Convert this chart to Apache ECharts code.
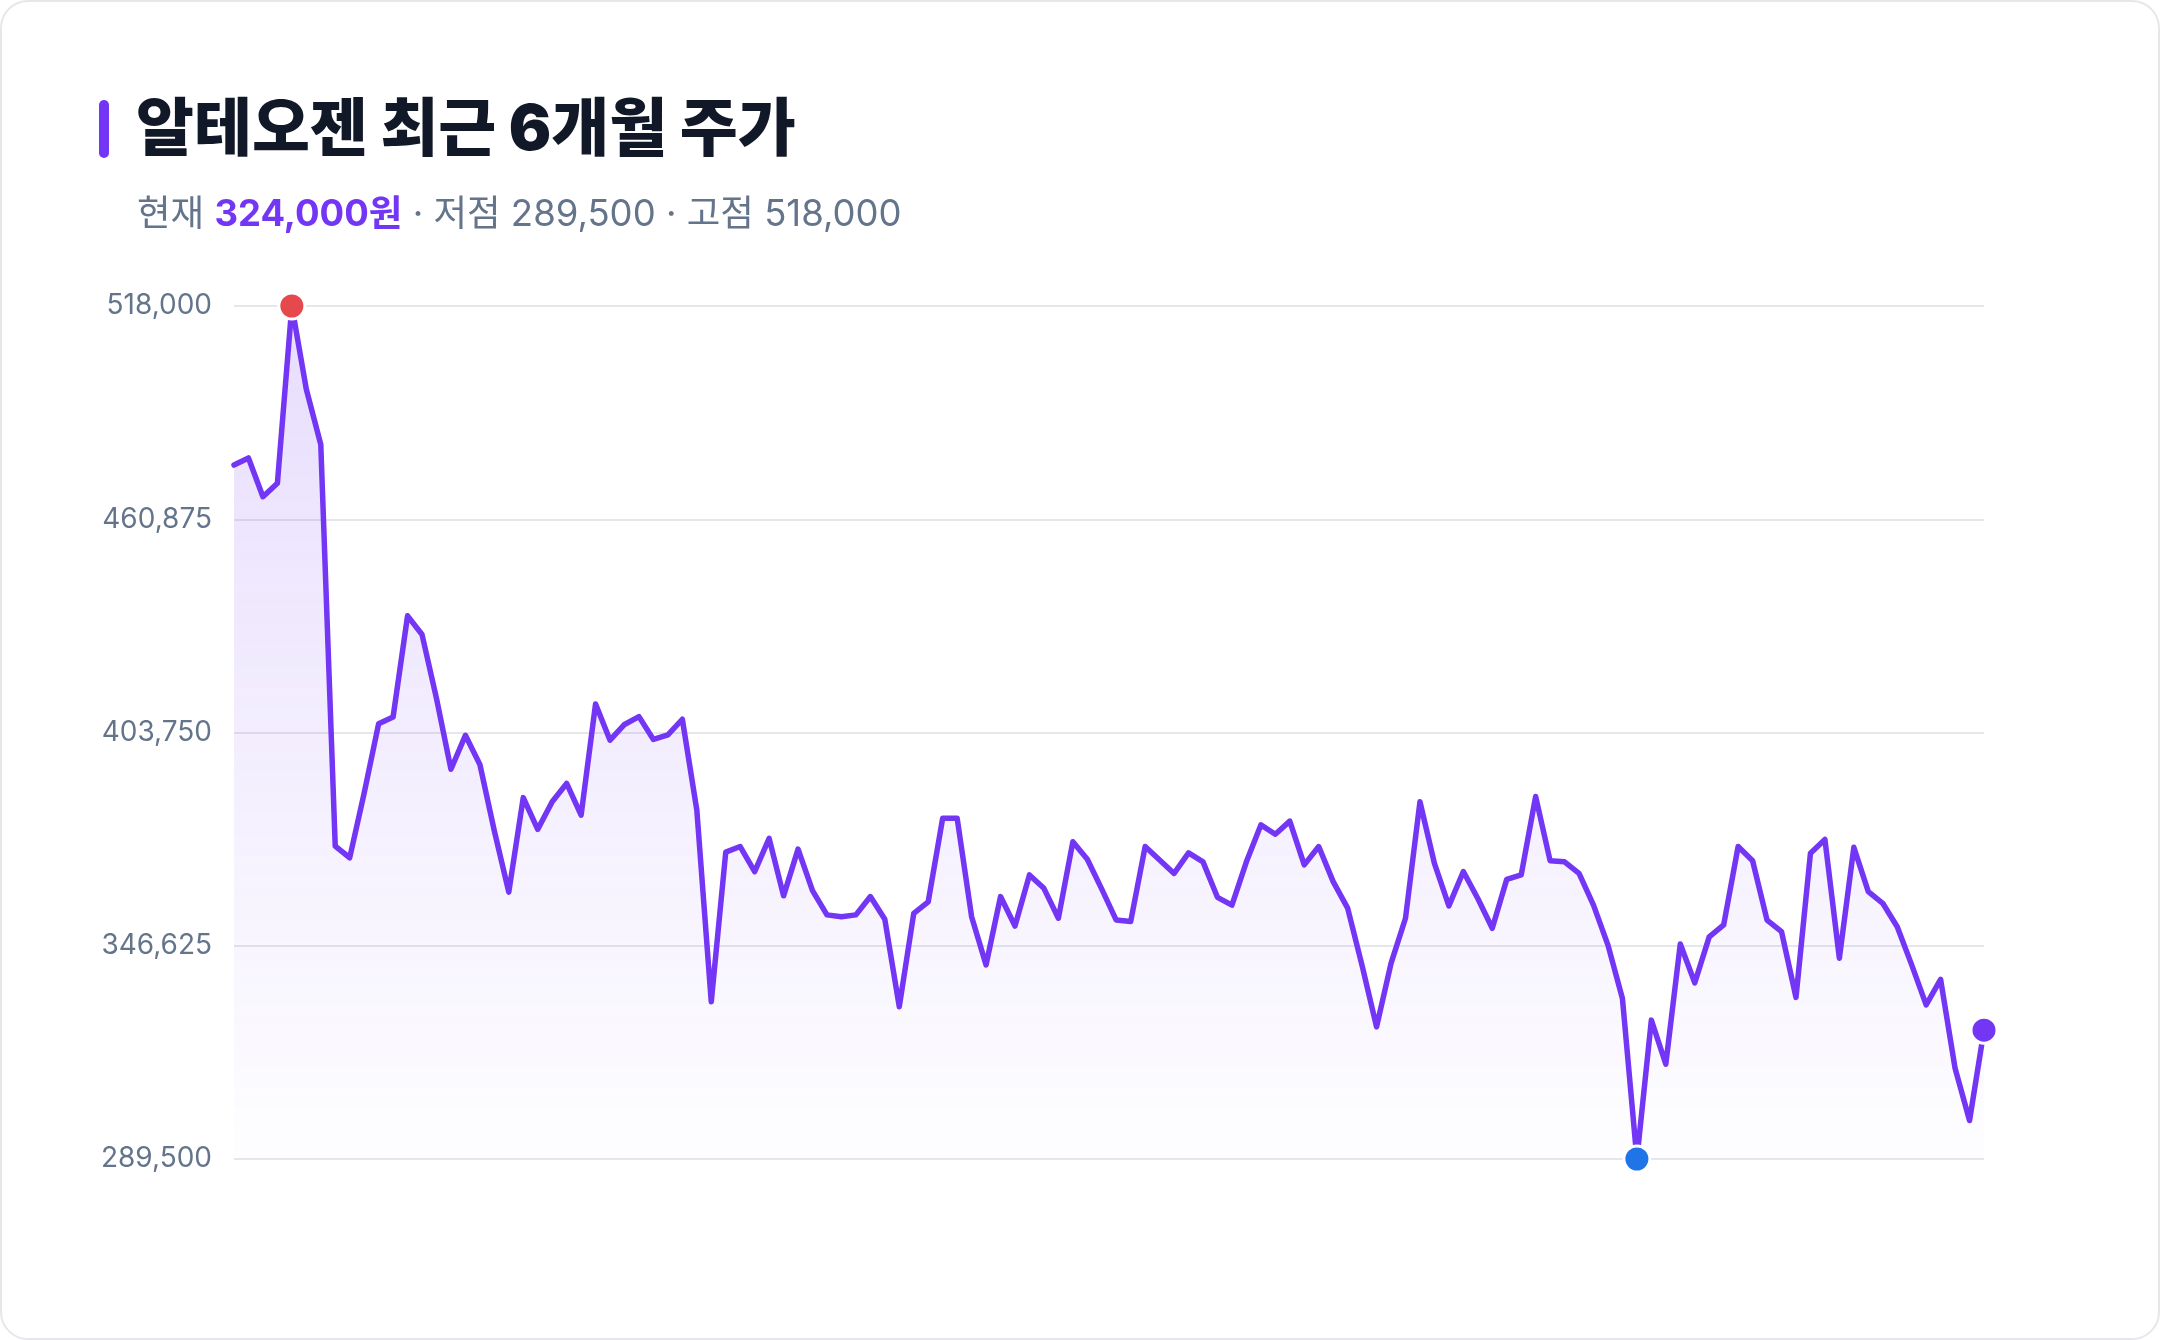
<!DOCTYPE html>
<html lang="ko">
<head>
<meta charset="utf-8">
<title>알테오젠 최근 6개월 주가</title>
<script src="https://cdn.jsdelivr.net/npm/echarts@6.0.0/dist/echarts.min.js"></script>
<style>
  html, body {
    margin: 0;
    padding: 0;
    background: #fff;
  }
  .card {
    position: absolute;
    left: 0;
    top: 0;
    width: 2160px;
    height: 1340px;
    box-sizing: border-box;
    border: 2px solid #e5e7eb;
    border-radius: 28px;
    background: #fff;
  }
  #priceChart {
    position: absolute;
    left: 0;
    top: 0;
    width: 2160px;
    height: 1340px;
  }
</style>
</head>
<body>
<div class="card"></div>
<div id="priceChart"></div>
<script>
// 일별 종가 (원)
const prices = [
  475400, 477300, 466900, 470500, 518000, 495700, 480900, 373300, 370200, 387500,
  406100, 407900, 435000, 430000, 412900, 393900, 403000, 395200, 377400, 361000,
  386300, 377800, 385200, 390100, 381600, 411400, 401700, 405900, 408000, 401900,
  403100, 407300, 383000, 331600, 371700, 373200, 366500, 375400, 360000, 372500,
  361400, 354900, 354400, 354900, 359800, 353700, 330300, 355300, 358400, 380800,
  380800, 354400, 341500, 359800, 351900, 365600, 362000, 354000, 374500, 369800,
  361800, 353500, 353100, 373200, 369600, 366000, 371500, 369100, 359600, 357500,
  369100, 379000, 376500, 380000, 368300, 373200, 363800, 356700, 341300, 324900,
  341900, 354000, 385200, 368700, 357300, 366500, 359300, 351300, 364400, 365600,
  386600, 369400, 369100, 366000, 357500, 346800, 332500, 289500, 326700, 314900,
  347100, 336700, 349000, 352200, 373200, 369400, 353500, 350400, 332800, 371400,
  375100, 343300, 373000, 361100, 358000, 351700, 341500, 330800, 337600, 313800,
  299800, 324000
]
// 거래일 (축 라벨은 표시하지 않음)
const days = prices.map((p, i) => 'D' + (i + 1))
// y축 눈금
const yTicks = [289500, 346625, 403750, 460875, 518000]

const fontFamily = 'Inter, "Noto Sans CJK KR", sans-serif'
const purple = '#7436f5'
const fmt = v => v.toLocaleString('en-US')

const high = Math.max(...prices)
const low = Math.min(...prices)
const last = prices[prices.length - 1]

const chart = echarts.init(document.getElementById('priceChart'))
chart.setOption({
  animation: false,
  textStyle: { fontFamily: fontFamily },
  title: [
    {
      text: '알테오젠 최근 6개월 주가',
      left: 131,
      top: 95,
      textStyle: {
        fontFamily: fontFamily,
        fontSize: 63,
        fontWeight: 900,
        color: '#111827'
      }
    },
    {
      text: '{g|현재 }{p|' + fmt(last) + '원}{g| · 저점 ' + fmt(low) + ' · 고점 ' + fmt(high) + '}',
      left: 132,
      top: 192,
      textStyle: {
        fontWeight: 'normal',
        rich: {
          g: { fontFamily: fontFamily, fontSize: 36.5, fontWeight: 'normal', color: '#64748b' },
          p: { fontFamily: fontFamily, fontSize: 36.5, fontWeight: 'bold', color: purple }
        }
      }
    }
  ],
  graphic: [
    {
      type: 'rect',
      left: 99,
      top: 100,
      shape: { width: 10, height: 58, r: 5 },
      style: { fill: purple }
    }
  ],
  grid: {
    left: 234,
    right: 176,
    top: 306,
    bottom: 181
  },
  xAxis: {
    type: 'category',
    boundaryGap: false,
    data: days,
    show: false
  },
  yAxis: {
    type: 'value',
    min: yTicks[0],
    max: yTicks[yTicks.length - 1],
    interval: yTicks[1] - yTicks[0],
    axisLine: { show: false },
    axisTick: { show: false },
    axisLabel: {
      color: '#64748b',
      fontSize: 28,
      margin: 22,
      formatter: fmt
    },
    splitLine: {
      lineStyle: { color: '#e5e7eb', width: 2 }
    }
  },
  series: [
    {
      type: 'line',
      data: prices,
      symbol: 'none',
      lineStyle: { color: purple, width: 5.5, join: 'round', cap: 'round' },
      itemStyle: { color: purple },
      areaStyle: {
        color: new echarts.graphic.LinearGradient(0, 0, 0, 1, [
          { offset: 0, color: 'rgba(116, 54, 245, 0.24)' },
          { offset: 1, color: 'rgba(116, 54, 245, 0.01)' }
        ])
      },
      markPoint: {
        symbol: 'circle',
        symbolSize: 26,
        label: { show: false },
        itemStyle: { borderColor: '#fff', borderWidth: 3 },
        data: [
          { coord: [prices.indexOf(high), high], itemStyle: { color: '#e5484d' } },
          { coord: [prices.indexOf(low), low], itemStyle: { color: '#1f74e8' } },
          { coord: [prices.length - 1, last], itemStyle: { color: purple } }
        ]
      }
    }
  ]
})
</script>
</body>
</html>
